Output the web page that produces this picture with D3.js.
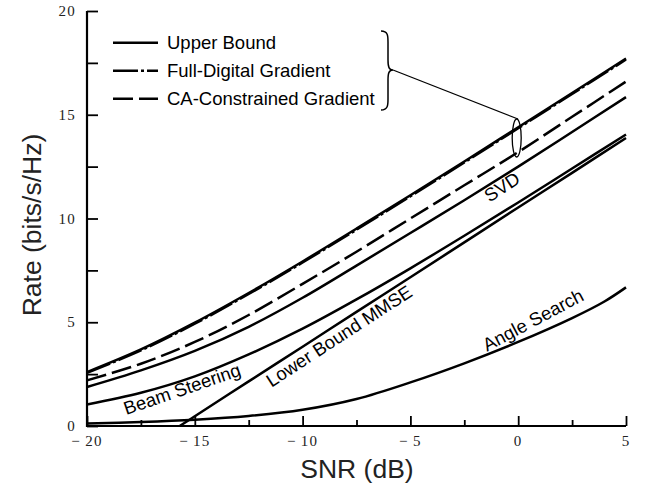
<!DOCTYPE html>
<html>
<head>
<meta charset="utf-8">
<script src="https://cdn.jsdelivr.net/npm/d3@7"></script>
<style>
  body { margin: 0; background: #fff; }
  text { font-family: "Liberation Sans", Arial, sans-serif; }
</style>
</head>
<body>
<div id="chart"></div>
<script>
// values
const snrGrid = [-20, -17.5, -15, -12.5, -10, -7.5, -5, -2.5, 0, 2.5, 5];
const upperBound = [2.60, 3.69, 4.98, 6.41, 7.93, 9.51, 11.12, 12.75, 14.40, 16.05, 17.71];
const fullDigital = [2.56, 3.64, 4.93, 6.36, 7.88, 9.46, 11.07, 12.70, 14.35, 16.00, 17.66];
const caConstrained = [2.20, 3.00, 4.05, 5.35, 6.85, 8.40, 10.00, 11.60, 13.20, 14.90, 16.60];
const svd = [1.88, 2.68, 3.62, 4.78, 6.18, 7.73, 9.30, 10.88, 12.50, 14.17, 15.85];
const beamSteering = [1.04, 1.60, 2.39, 3.45, 4.69, 6.10, 7.60, 9.17, 10.77, 12.41, 14.05];
const lowerBoundSnr = [-15.7, -15, -12.5, -10, -7.5, -5, -2.5, 0, 2.5, 5];
const lowerBoundMmse = [0, 0.47, 2.15, 3.82, 5.50, 7.17, 8.85, 10.53, 12.20, 13.88];
const angleSnr = [-20, -17.5, -15, -12.5, -10, -7.5, -5, -2.5, 0, 2.5, 4, 5];
const angleSearch = [0.12, 0.19, 0.30, 0.48, 0.78, 1.30, 2.10, 3.02, 4.05, 5.20, 6.00, 6.68];

const xMajor = [-20, -15, -10, -5, 0, 5];
const xMinor = [-17.5, -12.5, -7.5, -2.5, 2.5];
const yTicks = [0, 2.5, 5, 7.5, 10, 12.5, 15, 17.5, 20];
const yLabels = [0, 5, 10, 15, 20];

const legendNames = ["Upper Bound", "Full-Digital Gradient", "CA-Constrained Gradient"];
const legendDash = [null, "25,3,3,3", "20,6"];

const width = 646, height = 495;
const margin = {left: 87, right: 20, top: 11, bottom: 69};

const svg = d3.select("#chart").append("svg")
    .attr("width", width)
    .attr("height", height);

const x = d3.scaleLinear().domain([-20, 5]).range([margin.left, width - margin.right]);
const y = d3.scaleLinear().domain([0, 20]).range([height - margin.bottom, margin.top]);

const line = d3.line()
    .x(d => x(d[0]))
    .y(d => y(d[1]))
    .curve(d3.curveCatmullRom.alpha(0.5));

function drawCurve(xs, ys, dash) {
    svg.append("path")
        .datum(xs.map((v, i) => [v, ys[i]]))
        .attr("d", line)
        .attr("fill", "none")
        .attr("stroke", "#000")
        .attr("stroke-width", 2.5)
        .attr("stroke-dasharray", dash);
}

drawCurve(snrGrid, upperBound, null);
drawCurve(snrGrid, fullDigital, legendDash[1]);
drawCurve(snrGrid, caConstrained, legendDash[2]);
drawCurve(snrGrid, svd, null);
drawCurve(snrGrid, beamSteering, null);
drawCurve(lowerBoundSnr, lowerBoundMmse, null);
drawCurve(angleSnr, angleSearch, null);

// axes (ticks point inward)
const xAxis = svg.append("g").attr("transform", `translate(0,${y(0)})`);
xAxis.call(d3.axisBottom(x).tickValues(xMajor).tickSize(-10).tickFormat(""));
xAxis.append("g").call(d3.axisBottom(x).tickValues(xMinor).tickSize(-6).tickFormat(""));
xAxis.selectAll(".domain").remove();
xAxis.selectAll("line").attr("stroke", "#000").attr("stroke-width", 1.8);

const yAxis = svg.append("g").attr("transform", `translate(${x(-20)},0)`);
yAxis.call(d3.axisLeft(y).tickValues(yTicks).tickSize(-11).tickFormat(""));
yAxis.selectAll(".domain").remove();
yAxis.selectAll("line").attr("stroke", "#000").attr("stroke-width", 1.8);

svg.append("path")
    .attr("d", `M${x(-20)},${y(20)}V${y(0)}H${x(5)}`)
    .attr("fill", "none")
    .attr("stroke", "#000")
    .attr("stroke-width", 2.2);

// tick labels, serif like the original
svg.selectAll(".xlab")
    .data(xMajor)
    .join("text")
    .attr("x", d => x(d))
    .attr("y", y(0) + 20)
    .attr("text-anchor", "middle")
    .style("font-family", "'Liberation Serif', serif")
    .style("font-size", "15px")
    .style("letter-spacing", "1.2px")
    .attr("fill", "#222")
    .text(d => d < 0 ? "\u2212\u2009" + Math.abs(d) : d);

svg.selectAll(".ylab")
    .data(yLabels)
    .join("text")
    .attr("x", x(-20) - 11)
    .attr("y", d => y(d) + 5)
    .attr("text-anchor", "end")
    .style("font-family", "'Liberation Serif', serif")
    .style("font-size", "15px")
    .style("letter-spacing", "1.2px")
    .attr("fill", "#222")
    .text(d => d);

// axis titles
svg.append("text")
    .attr("transform", "translate(41,225) rotate(-90)")
    .attr("text-anchor", "middle")
    .style("font-size", "26.5px")
    .attr("fill", "#222")
    .text("Rate (bits/s/Hz)");

svg.append("text")
    .attr("x", 357)
    .attr("y", 478)
    .attr("text-anchor", "middle")
    .style("font-size", "26.5px")
    .attr("fill", "#222")
    .text("SNR (dB)");

// legend
const legend = svg.append("g");
legendNames.forEach((name, i) => {
    const ly = 42.7 + i * 28;
    legend.append("line")
        .attr("x1", 113).attr("x2", 158)
        .attr("y1", ly).attr("y2", ly)
        .attr("stroke", "#000")
        .attr("stroke-width", 2.5)
        .attr("stroke-dasharray", legendDash[i]);
    legend.append("text")
        .attr("x", 167)
        .attr("y", ly + 6.5)
        .style("font-size", "18.5px")
        .text(name);
});

// brace + pointer to the three top curves
svg.append("path")
    .attr("d", "M381,31 C388,31 388,36 388,42 L388,60 C388,67 389,70 393,70 C389,70 388,73 388,80 L388,99 C388,105 388,110 381,110")
    .attr("fill", "none")
    .attr("stroke", "#000")
    .attr("stroke-width", 1.5);

svg.append("line")
    .attr("x1", 393).attr("y1", 70)
    .attr("x2", 518).attr("y2", 119)
    .attr("stroke", "#000")
    .attr("stroke-width", 1.3);

svg.append("ellipse")
    .attr("cx", x(0) - 1.5)
    .attr("cy", 138)
    .attr("rx", 4.5)
    .attr("ry", 19)
    .attr("fill", "none")
    .attr("stroke", "#000")
    .attr("stroke-width", 1.3);

// curve labels
const curveLabels = [
    {text: "Beam Steering", cx: 182, cy: 389, angle: -19},
    {text: "Lower Bound MMSE", cx: 339, cy: 336, angle: -33},
    {text: "SVD", cx: 502, cy: 187, angle: -33},
    {text: "Angle Search", cx: 533, cy: 320, angle: -28}
];
svg.selectAll(".clab")
    .data(curveLabels)
    .join("text")
    .attr("transform", d => `translate(${d.cx},${d.cy}) rotate(${d.angle})`)
    .attr("text-anchor", "middle")
    .attr("dy", "0.35em")
    .style("font-size", "18.5px")
    .text(d => d.text);
</script>
</body>
</html>
